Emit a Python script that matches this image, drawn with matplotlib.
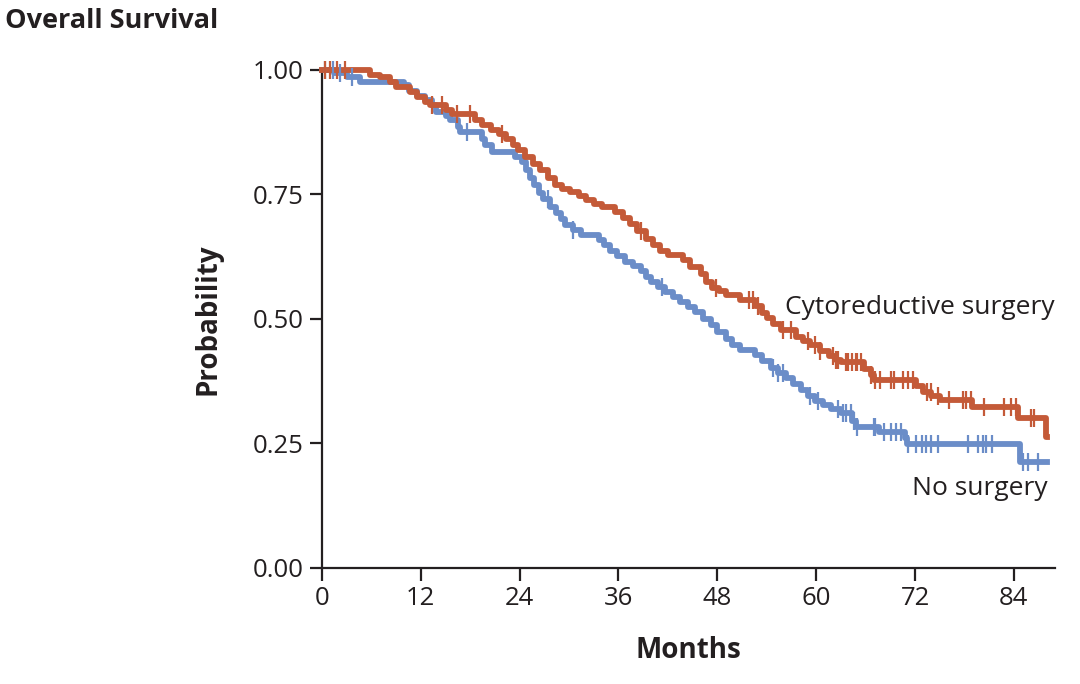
import numpy as np
import matplotlib
matplotlib.use('Agg')
import matplotlib.pyplot as plt

plt.rcParams['font.family'] = ['Open Sans', 'DejaVu Sans']

# Kaplan-Meier steps: (months, survival after drop)
surg_t = [0, 5.8, 7.0, 8.3, 9.0, 10.7, 11.5, 12.5, 13.1, 15.0, 15.8, 18.6, 19.4, 20.5, 21.5,
          22.4, 23.2, 23.8, 24.7, 25.6, 26.5, 27.4, 28.3, 29.2, 30.1, 31.2, 32.0, 33.0, 34.0,
          35.6, 36.5, 37.4, 38.3, 39.3, 40.2, 41.1, 42.0, 43.8, 44.7, 46.0, 46.6, 47.4, 48.2,
          49.0, 50.8, 52.6, 53.4, 54.0, 54.8, 55.7, 57.5, 58.4, 59.3, 60.5, 61.5, 62.4, 63.0,
          65.8, 66.6, 67.0, 72.1, 73.0, 74.0, 75.0, 78.9, 84.5, 87.9]
surg_s = [1.0, 0.99, 0.985, 0.975, 0.965, 0.955, 0.945, 0.935, 0.93, 0.92, 0.912, 0.9, 0.89,
          0.88, 0.872, 0.862, 0.85, 0.84, 0.826, 0.812, 0.8, 0.784, 0.77, 0.762, 0.754, 0.746,
          0.738, 0.73, 0.724, 0.714, 0.702, 0.69, 0.676, 0.66, 0.648, 0.636, 0.628, 0.618,
          0.604, 0.59, 0.574, 0.562, 0.556, 0.548, 0.538, 0.526, 0.512, 0.502, 0.49, 0.478,
          0.464, 0.456, 0.448, 0.436, 0.426, 0.418, 0.414, 0.4, 0.388, 0.378, 0.366, 0.353,
          0.345, 0.337, 0.323, 0.301, 0.263]
surg_end = 88.0
surg_cens = [0.4, 1.0, 1.8, 2.8, 13.4, 14.6, 16.4, 18.0, 21.9, 38.7, 47.8, 51.8, 52.3, 52.9,
             56.0, 56.9, 59.0, 59.9, 60.5, 62.1, 62.4, 62.7, 63.6, 63.9, 64.4, 64.8, 65.0,
             65.4, 66.6, 67.2, 67.8, 69.1, 69.4, 70.6, 71.1, 71.8, 73.5, 73.9, 74.8, 76.1,
             77.8, 78.2, 78.8, 80.4, 82.8, 83.6, 84.2, 86.1, 86.4]

nosurg_t = [0, 1.5, 3.0, 4.6, 10.0, 10.6, 11.5, 12.5, 13.4, 13.8, 15.0, 15.6, 16.5, 16.8, 19.4,
            19.8, 20.6, 23.4, 24.3, 24.8, 25.3, 25.8, 26.3, 26.8, 27.7, 28.4, 29.0, 29.5, 30.5,
            31.4, 33.6, 34.2, 35.0, 35.8, 36.8, 37.8, 38.7, 39.4, 39.9, 40.8, 41.7, 42.6, 43.5,
            44.4, 45.3, 46.2, 47.2, 48.0, 49.0, 49.8, 50.8, 52.6, 53.4, 54.5, 55.4, 56.3, 57.2,
            58.1, 59.0, 59.9, 60.8, 61.8, 63.0, 64.4, 64.8, 67.6, 70.8, 71.0, 84.8]
nosurg_s = [1.0, 0.994, 0.986, 0.976, 0.97, 0.958, 0.948, 0.94, 0.93, 0.916, 0.908, 0.9, 0.886,
            0.876, 0.862, 0.85, 0.836, 0.826, 0.816, 0.8, 0.784, 0.77, 0.752, 0.74, 0.724, 0.712,
            0.7, 0.688, 0.678, 0.668, 0.658, 0.648, 0.636, 0.626, 0.614, 0.606, 0.596, 0.584,
            0.574, 0.564, 0.554, 0.544, 0.534, 0.524, 0.514, 0.5, 0.488, 0.474, 0.46, 0.448,
            0.438, 0.428, 0.416, 0.402, 0.392, 0.382, 0.37, 0.358, 0.346, 0.336, 0.328, 0.32,
            0.312, 0.296, 0.284, 0.274, 0.262, 0.248, 0.213]
nosurg_end = 88.0
nosurg_cens = [0.4, 1.3, 2.2, 3.6, 17.6, 27.5, 30.5, 41.3, 54.8, 55.4, 56.0, 59.3, 60.2, 62.6,
               63.3, 63.6, 64.2, 64.6, 65.0, 67.0, 67.2, 68.2, 69.1, 69.7, 70.3, 71.2, 72.1,
               72.9, 73.3, 73.9, 74.8, 78.4, 79.6, 80.2, 80.6, 81.4, 85.1, 85.7, 86.9]

x_ticks = [0, 12, 24, 36, 48, 60, 72, 84]
y_ticks = [0.0, 0.25, 0.5, 0.75, 1.0]

red = '#C45A38'
blue = '#6B8DC8'


def km_line(ax, t, s, end, cens, color):
    tt = list(t) + [end]
    ss = list(s) + [s[-1]]
    ax.step(tt, ss, where='post', color=color, lw=4.2, clip_on=False, zorder=3)
    idx = np.searchsorted(np.array(t), np.array(cens), side='right') - 1
    cy = np.array(s)[idx]
    ax.plot(cens, cy, ls='none', marker='|', ms=13, mew=1.6, color=color,
            clip_on=False, zorder=4)


fig = plt.figure(figsize=(10.8, 6.84), dpi=100)
ax = fig.add_axes([0.2981, 0.1696, 0.6788, 0.7281])

km_line(ax, nosurg_t, nosurg_s, nosurg_end, nosurg_cens, blue)
km_line(ax, surg_t, surg_s, surg_end, surg_cens, red)

ax.set_xlim(0, 89)
ax.set_ylim(0, 1)
ax.set_xticks(x_ticks)
ax.set_yticks(y_ticks)
ax.set_yticklabels(['%.2f' % v for v in y_ticks])
for sp in ['top', 'right']:
    ax.spines[sp].set_visible(False)
for sp in ['left', 'bottom']:
    ax.spines[sp].set_linewidth(1.6)
    ax.spines[sp].set_color('#231f20')
ax.tick_params(direction='out', length=9, width=1.6, colors='#231f20',
               labelsize=18.5, pad=4)

ax.set_xlabel('Months', fontsize=20, fontweight='bold', color='#231f20', labelpad=18)
ax.set_ylabel('Probability', fontsize=20, fontweight='bold', color='#231f20', labelpad=22)

ax.text(1.0, 0.524, 'Cytoreductive surgery', transform=ax.transAxes, ha='right',
        va='center', fontsize=19, color='#231f20')
ax.text(0.99, 0.16, 'No surgery', transform=ax.transAxes, ha='right',
        va='center', fontsize=19, color='#231f20')

fig.text(0.005, 0.97, 'Overall Survival', ha='left', va='center', fontsize=19.5,
         fontweight='bold', color='#231f20')

fig.savefig('out.png', dpi=100)
